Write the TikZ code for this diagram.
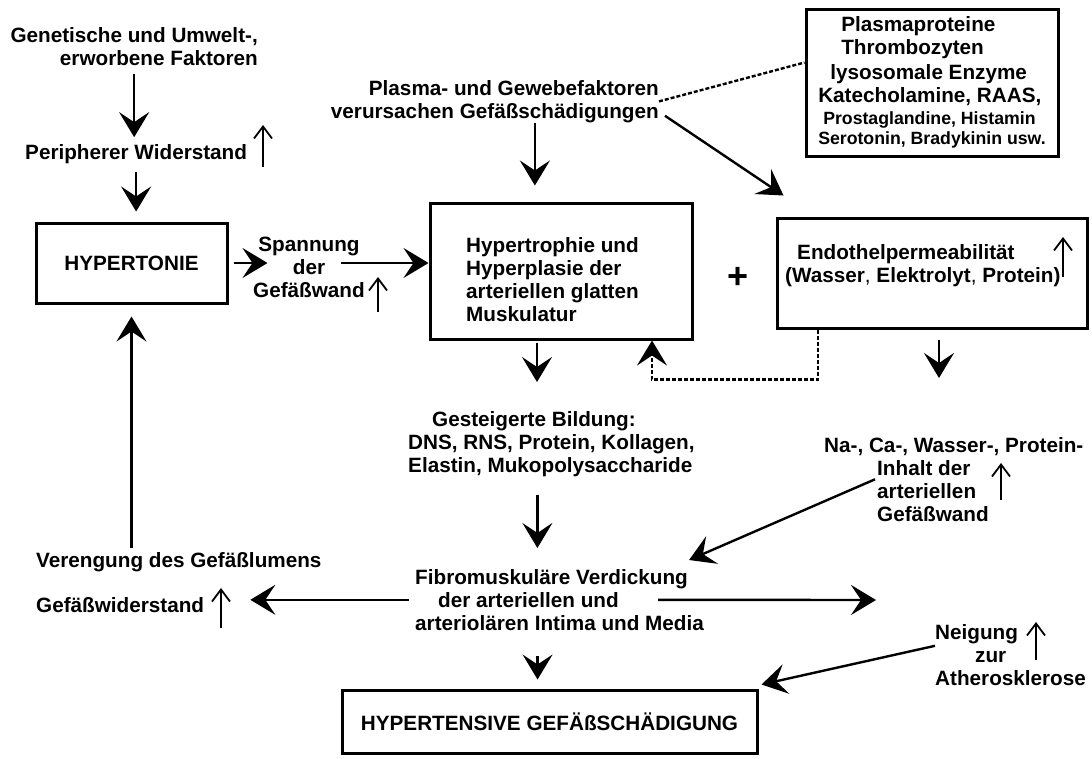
\documentclass[tikz,border=0pt]{standalone}
\usepackage{fontspec}
\setmainfont{Liberation Sans}
\usepackage{tikz}
\usetikzlibrary{arrows.meta}

\newcommand{\diagfnt}{\bfseries\fontsize{20.7pt}{23pt}\selectfont}
\newcommand{\diagsmall}{\fontsize{17.7pt}{20pt}\selectfont}

\begin{document}
\begin{tikzpicture}[x=1pt,y=-1pt,
    txt/.style={inner sep=0pt, font=\diagfnt, align=left},
    box/.style={draw, line width=3pt, inner sep=0pt},
    big/.style={line width=2.4pt, -{Stealth[length=25pt,width=30pt,inset=10pt]}},
    incr/.style={line width=1.8pt, -{Straight Barb[length=12pt,width=18pt]}},
    dashy/.style={line width=2.4pt, dash pattern=on 4pt off 2pt}]

      % Picture frame
      \useasboundingbox (0,0) rectangle (1092,758);

      % Left column
      \node[txt, align=right, anchor=north east] (gen) at (258,27) {Genetische und Umwelt-,\\erworbene Faktoren};
      \node[txt, anchor=west] (per) at (25,154) {Peripherer Widerstand};
      \node[box, txt, align=center, minimum width=191pt, minimum height=80pt] (hyp) at (131.5,263) {HYPERTONIE};
      \node[txt, align=center] (span) at (309,267) {Spannung\\der\\Gefäßwand};
      \node[txt, anchor=west] (ver) at (36,562) {Verengung des Gefäßlumens};
      \node[txt, anchor=west] (wid) at (36,605) {Gefäßwiderstand};

      % Middle column
      \node[txt, align=right, anchor=north east] (pf) at (659,80) {Plasma- und Gewebefaktoren\\verursachen Gefäßschädigungen};
      \node[box, minimum width=262pt, minimum height=136pt] (hyper) at (561,271) {};
      \node[txt, anchor=north west] (hypertxt) at (466,237) {Hypertrophie und\\Hyperplasie der\\arteriellen glatten\\Muskulatur};
      \node[txt, anchor=north west] (gest) at (408,411) {\hspace*{24pt}Gesteigerte Bildung:\\DNS, RNS, Protein, Kollagen,\\Elastin, Mukopolysaccharide};
      \node[txt, anchor=north west] (fib) at (415,569) {Fibromuskuläre Verdickung\\\hspace*{23pt}der arteriellen und\\arteriolären Intima und Media};
      \node[box, txt, align=center, minimum width=415pt, minimum height=63pt] (hyt) at (549.5,721.5) {HYPERTENSIVE GEFÄßSCHÄDIGUNG};

      % Right column
      \node[box, txt, minimum width=252pt, minimum height=147pt] (plasma) at (932,82.5) {\hspace*{23pt}Plasmaproteine\\
        \hspace*{23pt}Thrombozyten\\[2pt]
        \hspace*{12pt}lysosomale Enzyme\\
        Katecholamine, RAAS,\\[-1pt]
        \hspace*{5pt}{\diagsmall Prostaglandine, Histamin}\\[-3pt]
        {\diagsmall Serotonin, Bradykinin usw.}};
      \node[box, minimum width=310pt, minimum height=110pt] (endo) at (932,273) {};
      \node[txt, anchor=north west] (endotxt) at (785,244) {\hspace*{12pt}Endothelpermeabilität\\(Wasser{\mdseries,} Elektrolyt{\mdseries,} Protein)};
      \node[inner sep=0pt, font=\bfseries\fontsize{36pt}{36pt}\selectfont] (plus) at (738,278) {+};
      \node[txt, anchor=north west] (na) at (824,437) {Na-, Ca-, Wasser-, Protein-\\\hspace*{53pt}Inhalt der\\\hspace*{53pt}arteriellen\\\hspace*{53pt}Gefäßwand};
      \node[txt, anchor=north west] (nei) at (935,624) {Neigung\\\hspace*{40pt}zur\\Atherosklerose};

      % Free ends
      \coordinate (endoout) at (939,378);
      \coordinate (fibout) at (876,600);

      % Arrows left
      \draw[big, shorten <=8pt, shorten >=7pt] (gen.south) -- (gen.south |- per.north);
      \draw[big, shorten <=8pt, shorten >=10pt] (per.south) -- (per.south |- hyp.north);
      \draw[big, shorten <=5pt] (hyp.east) -- ([xshift=39pt]hyp.east);
      \draw[big] ([xshift=-24pt]span.east |- hyp.east) -- (hyper.west |- hyp.east);
      \draw[big, shorten <=4pt, shorten >=12pt] (ver.north -| hyp.south) -- (hyp.south);

      % Arrows middle
      \draw[big, shorten >=16pt] ([xshift=40pt]pf.south) -- ([xshift=40pt]pf.south |- hyper.north);
      \draw[big] ([xshift=6pt,yshift=7pt]pf.south east) -- ([xshift=8pt,yshift=21pt]endo.north west);
      \draw[dashy] (pf.east) -- ([yshift=20pt]plasma.west);
      \draw[big, shorten <=2pt, shorten >=29pt] ([xshift=-24pt]hyper.south) -- ([xshift=-24pt]hyper.south |- gest.north);
      \draw[big, shorten <=18pt, shorten >=21pt] ([xshift=-14pt]gest.south) -- ([xshift=-14pt]gest.south |- fib.north);
      \draw[big, shorten <=25pt, shorten >=9pt] ([xshift=-22pt]fib.south) -- ([xshift=-22pt]fib.south |- hyt.north);
      \draw[big, shorten <=6pt, shorten >=46pt] (fib.west) -- (fib.west -| wid.east);
      \draw[big] ([xshift=-46pt]fib.east) -- (fibout);

      % Arrows right
      \draw[big, dashy] ([xshift=-114pt]endo.south) -- ++(0,50) -| ([xshift=91pt]hyper.south);
      \draw[big, shorten <=10pt] (endo.south -| endoout) -- (endoout);
      \draw[big] ([xshift=51pt]na.west) -- ([xshift=-15pt,yshift=9pt]fib.north east);
      \draw[big] ([yshift=9pt]nei.west) -- ([xshift=3pt,yshift=4pt]hyt.north east);

      % Increase marks
      \draw[incr] (263,167) -- (263,125);
      \draw[incr] (378,312) -- (378,277);
      \draw[incr] (1063,277) -- (1063,237);
      \draw[incr] (221,628) -- (221,588);
      \draw[incr] (1001,500) -- (1001,463);
      \draw[incr] (1036,660) -- (1036,622);

\end{tikzpicture}
\end{document}
